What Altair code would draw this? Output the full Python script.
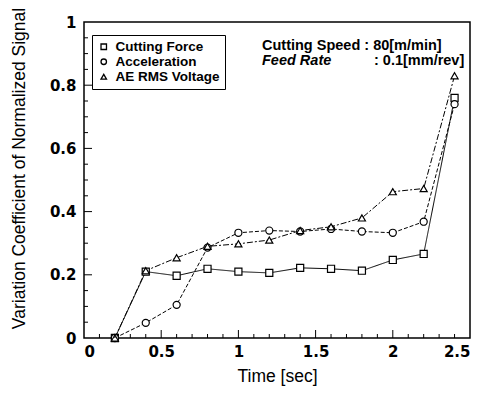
import altair as alt
import pandas as pd

time = [0.2, 0.4, 0.6, 0.8, 1.0, 1.2, 1.4, 1.6, 1.8, 2.0, 2.2, 2.4]
cutting_force = [0.0, 0.21, 0.197, 0.219, 0.21, 0.206, 0.222, 0.219, 0.213, 0.247, 0.266, 0.76]
acceleration = [0.0, 0.048, 0.105, 0.286, 0.333, 0.34, 0.337, 0.345, 0.337, 0.333, 0.368, 0.74]
ae_rms = [0.0, 0.213, 0.254, 0.29, 0.298, 0.31, 0.34, 0.352, 0.38, 0.463, 0.473, 0.83]

series_names = ["Cutting Force", "Acceleration", "AE RMS Voltage"]
shapes = ["square", "circle", "triangle-up"]
dashes = [[1, 0], [4, 2], [6, 2, 2, 2]]

x_minor = [0.1, 0.2, 0.3, 0.4, 0.6, 0.7, 0.8, 0.9, 1.1, 1.2, 1.3, 1.4, 1.6, 1.7, 1.8, 1.9,
           2.1, 2.2, 2.3, 2.4]
x_major = [0.5, 1.0, 1.5, 2.0]
y_minor = [0.05, 0.1, 0.15, 0.25, 0.3, 0.35, 0.45, 0.5, 0.55, 0.65, 0.7, 0.75, 0.85, 0.9, 0.95]
y_major = [0.2, 0.4, 0.6, 0.8]

rows = []
for name, vals in zip(series_names, [cutting_force, acceleration, ae_rms]):
    for t, v in zip(time, vals):
        rows.append({"Time": t, "Value": v, "Series": name})
df = pd.DataFrame(rows)

W, H = 386, 316
FONT = "Liberation Sans"
TICKFONT = "DejaVu Sans"

x_enc = alt.X("Time:Q", scale=alt.Scale(domain=[0, 2.5], nice=False),
              axis=alt.Axis(values=[0, 0.5, 1, 1.5, 2, 2.5], format="~g", title="Time [sec]",
                            domain=False, ticks=False, grid=False, labelPadding=6,
                            labelFontSize=15, labelFontWeight="bold", labelFont=TICKFONT,
                            titleFontSize=17.5, titleFont=FONT, titleFontWeight="normal",
                            titlePadding=8, labelColor="black", titleColor="black"))
y_enc = alt.Y("Value:Q", scale=alt.Scale(domain=[0, 1], nice=False),
              axis=alt.Axis(values=[0, 0.2, 0.4, 0.6, 0.8, 1], format="~g",
                            title="Variation Coefficient of Normalized Signal",
                            domain=False, ticks=False, grid=False, labelPadding=8,
                            labelFontSize=15, labelFontWeight="bold", labelFont=TICKFONT,
                            titleFontSize=17.5, titleFont=FONT, titleFontWeight="normal",
                            titlePadding=21, titleY=146, labelColor="black", titleColor="black"))

line_layers = []
for name, dash in zip(series_names, dashes):
    line_layers.append(
        alt.Chart(df).transform_filter(alt.datum.Series == name)
        .mark_line(strokeWidth=1, color="black", strokeDash=dash)
        .encode(x=x_enc, y=y_enc)
    )

legend = alt.Legend(title=None, orient="none", legendX=8, legendY=13,
                    strokeColor="black", fillColor="white", padding=5,
                    labelFont=FONT, labelFontSize=13.5, labelFontWeight="bold",
                    labelColor="black", symbolSize=30, symbolStrokeWidth=1.3,
                    rowPadding=0, labelOffset=5)

points = alt.Chart(df).mark_point(filled=False, fill="white", fillOpacity=1,
                                  strokeWidth=1.2, size=50, opacity=1).encode(
    x="Time:Q", y="Value:Q",
    color=alt.Color("Series:N", scale=alt.Scale(domain=series_names, range=["black"] * 3), legend=legend),
    shape=alt.Shape("Series:N", scale=alt.Scale(domain=series_names, range=shapes), legend=legend),
)

xminor_df = pd.DataFrame({"t": x_minor})
xmajor_df = pd.DataFrame({"t": x_major})
yminor_df = pd.DataFrame({"v": y_minor})
ymajor_df = pd.DataFrame({"v": y_major})

xt_minor = alt.Chart(xminor_df).mark_rule(color="black", strokeWidth=1).encode(
    x="t:Q", y=alt.value(H), y2=alt.value(H - 4))
xt_major = alt.Chart(xmajor_df).mark_rule(color="black", strokeWidth=1).encode(
    x="t:Q", y=alt.value(H), y2=alt.value(H - 8))
yt_minor = alt.Chart(yminor_df).mark_rule(color="black", strokeWidth=1).encode(
    y="v:Q", x=alt.value(0), x2=alt.value(4))
yt_major = alt.Chart(ymajor_df).mark_rule(color="black", strokeWidth=1).encode(
    y="v:Q", x=alt.value(0), x2=alt.value(8))

ann1 = alt.Chart(pd.DataFrame({"s": ["Cutting Speed : 80[m/min]"]})).mark_text(
    font=FONT, fontSize=14.5, fontWeight="bold", align="left", baseline="middle", color="black"
).encode(text="s:N", x=alt.value(178), y=alt.value(24))
ann2 = alt.Chart(pd.DataFrame({"s": ["Feed Rate"]})).mark_text(
    font=FONT, fontSize=14.5, fontWeight="bold", fontStyle="italic", align="left", baseline="middle", color="black"
).encode(text="s:N", x=alt.value(178), y=alt.value(39))
ann3 = alt.Chart(pd.DataFrame({"s": [": 0.1[mm/rev]"]})).mark_text(
    font=FONT, fontSize=14.5, fontWeight="bold", align="left", baseline="middle", color="black"
).encode(text="s:N", x=alt.value(290), y=alt.value(39))

chart = alt.layer(*line_layers, points, xt_minor, xt_major, yt_minor, yt_major, ann1, ann2, ann3).properties(
    width=W, height=H,
    background="white",
    autosize=alt.AutoSizeParams(type="none"),
    padding={"left": 84, "top": 22, "right": 16, "bottom": 61},
).configure_view(stroke="black", strokeWidth=1.5)

chart.save("out.html", embed_options={"renderer": "svg", "actions": False})
